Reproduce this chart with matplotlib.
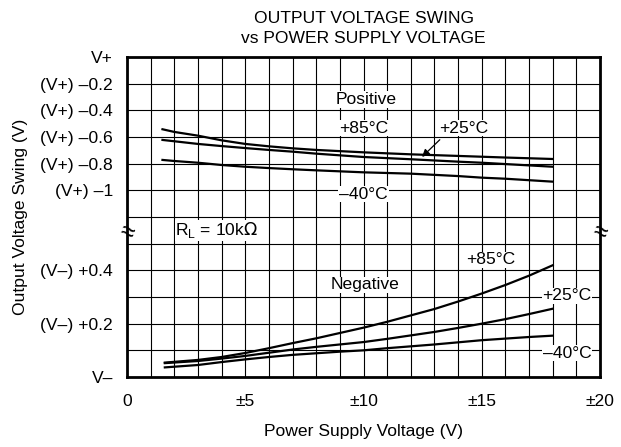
import numpy as np
import matplotlib.pyplot as plt

plt.rcParams["font.family"] = ["Liberation Sans", "DejaVu Sans"]

# supply voltage (±V)
vs_pos = [1.5, 2, 3, 4, 5, 6, 7, 8, 10, 12, 14, 15, 16, 18]
# positive swing, drop below V+ (V)
pos_85 = [0.542, 0.562, 0.59, 0.625, 0.652, 0.67, 0.685, 0.697, 0.715, 0.73, 0.742, 0.748, 0.754, 0.765]
pos_25 = [0.622, 0.632, 0.652, 0.668, 0.683, 0.697, 0.71, 0.725, 0.75, 0.767, 0.785, 0.793, 0.803, 0.823]
pos_m40 = [0.772, 0.78, 0.793, 0.81, 0.823, 0.833, 0.842, 0.85, 0.865, 0.875, 0.893, 0.905, 0.913, 0.935]

vs_neg = [1.6, 3, 4, 5, 6, 7, 8, 9, 10, 11, 12, 13, 14, 15, 16, 17, 18]
# negative swing, rise above V- (V)
neg_85 = [0.054, 0.064, 0.075, 0.09, 0.108, 0.127, 0.145, 0.165, 0.185, 0.207, 0.231,
          0.255, 0.283, 0.313, 0.345, 0.38, 0.419]
neg_25 = [0.052, 0.06, 0.069, 0.079, 0.091, 0.103, 0.113, 0.122, 0.131, 0.143, 0.156,
          0.169, 0.184, 0.2, 0.217, 0.236, 0.256]
neg_m40 = [0.036, 0.045, 0.056, 0.066, 0.075, 0.083, 0.089, 0.095, 0.1, 0.108, 0.115,
           0.122, 0.13, 0.138, 0.144, 0.15, 0.155]

ytick_labels = ["V\u2013", "", "(V\u2013) +0.2", "", "(V\u2013) +0.4", "", "",
                "(V+) \u20131", "(V+) \u20130.8", "(V+) \u20130.6", "(V+) \u20130.4",
                "(V+) \u20130.2", "V+"]
xtick_labels = ["0", "\u00b15", "\u00b110", "\u00b115", "\u00b120"]

FS = 12.6


# chart rows: lower part 0.1 V per row from V-, upper part 0.2 V per row below V+
def top_rows(drop):
    return 12 - np.array(drop) / 0.2


def bottom_rows(v):
    return np.array(v) / 0.1


fig = plt.figure(figsize=(6.21, 4.47), dpi=100)
ax = fig.add_axes([0.2045, 0.1566, 0.7617, 0.7159])

for d in (pos_85, pos_25, pos_m40):
    ax.plot(vs_pos, top_rows(d), color="black", lw=1.6, zorder=3)
for v in (neg_85, neg_25, neg_m40):
    ax.plot(vs_neg, bottom_rows(v), color="black", lw=1.6, zorder=3)

ax.set_xlim(0, 20)
ax.set_ylim(0, 12)
ax.set_xticks(np.arange(0, 21, 5))
ax.set_xticklabels(xtick_labels)
ax.set_xticks(np.arange(0, 21, 1), minor=True)
ax.set_yticks(np.arange(0, 13, 1))
ax.set_yticklabels(ytick_labels)
ax.tick_params(which="both", length=0, labelsize=FS)
ax.tick_params(axis="y", pad=10)
ax.tick_params(axis="x", pad=12)
ax.grid(which="both", color="black", lw=0.8, zorder=1)
for s in ax.spines.values():
    s.set_linewidth(2)

ax.set_xlabel("Power Supply Voltage (V)", fontsize=FS, labelpad=11)
ax.set_ylabel("Output Voltage Swing (V)", fontsize=FS, labelpad=9)
ax.set_title("OUTPUT VOLTAGE SWING\nvs POWER SUPPLY VOLTAGE", fontsize=FS, pad=10,
             linespacing=1.4)

box = dict(facecolor="white", edgecolor="none", pad=0.5)
lab = dict(fontsize=FS, ha="center", va="center", bbox=box, zorder=4)
ax.text(10.1, 10.4, "Positive", **lab)
ax.text(10.0, 9.33, "+85\u00b0C", **lab)
ax.text(14.25, 9.33, "+25\u00b0C", **lab)
ax.text(10.0, 6.86, "\u201340\u00b0C", **lab)
ax.text(10.06, 3.45, "Negative", **lab)
ax.text(15.39, 4.39, "+85\u00b0C", **lab)
ax.text(18.6, 3.04, "+25\u00b0C", **lab)
ax.text(18.6, 0.89, "\u201340\u00b0C", **lab)
ax.text(3.8, 5.5, r"R$_\mathregular{L}$ = 10k$\Omega$", **lab)
ax.annotate("", xy=(12.39, 8.18), xytext=(13.31, 8.97),
            arrowprops=dict(arrowstyle="-|>", color="black", lw=0.9,
                            mutation_scale=11), zorder=4)

for xb in (0, 20):
    ax.text(xb, 5.4, "\u2248", fontsize=18, ha="center", va="center", rotation=-20,
            clip_on=False, zorder=5)

fig.savefig("out.png", dpi=100)
